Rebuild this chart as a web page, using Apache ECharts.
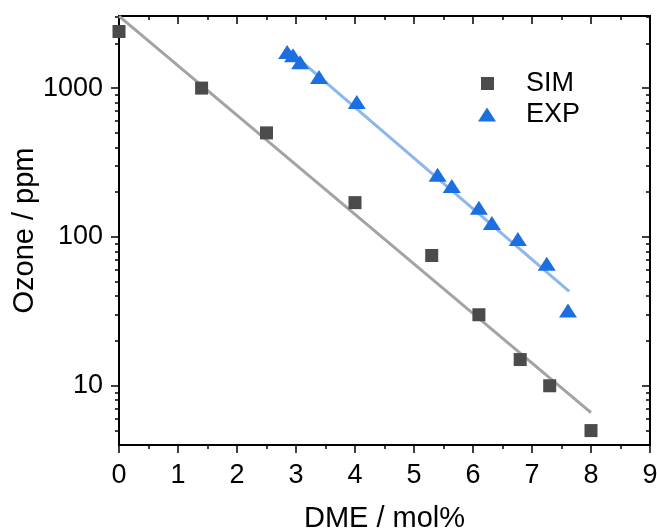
<!DOCTYPE html>
<html>
<head>
<meta charset="utf-8">
<script src="https://cdn.jsdelivr.net/npm/echarts@6/dist/echarts.min.js"></script>
<style>
  html, body { margin: 0; padding: 0; background: #fff; }
  #chart { width: 657px; height: 529px; }
</style>
</head>
<body>
<div id="chart"></div>
<script>
// Ozone concentration vs. DME content (log scale)
const simX = [0, 1.4, 2.5, 4.0, 5.3, 6.1, 6.8, 7.3, 8.0];
const simY = [2400, 1000, 500, 170, 75, 30, 15, 10, 5];
const expX = [2.85, 2.95, 3.07, 3.39, 4.03, 5.4, 5.64, 6.1, 6.32, 6.76, 7.25, 7.61];
const expY = [1750, 1660, 1490, 1185, 805, 262, 220, 157, 124, 97, 66, 32];

// Exponential fit lines (end points)
const simFitX = [0, 8.0];
const simFitY = [3040, 6.6];
const expFitX = [2.85, 7.63];
const expFitY = [1830, 43];

const xTicks = [0, 1, 2, 3, 4, 5, 6, 7, 8, 9];
const yMajorTicks = [10, 100, 1000];
const yMinorTicks = [5, 6, 7, 8, 9, 20, 30, 40, 50, 60, 70, 80, 90,
                     200, 300, 400, 500, 600, 700, 800, 900, 2000, 3000];
const yMin = 4, yMax = 3050;

const zip = (xs, ys) => xs.map((x, i) => [x, ys[i]]);

const FONT = '"Liberation Sans", Arial, sans-serif';
const AXIS_COLOR = '#000';

function yAxisDef(pos, major, withLabels) {
  return {
    type: 'log',
    position: pos,
    min: yMin,
    max: yMax,
    logBase: 10,
    name: withLabels ? 'Ozone / ppm' : '',
    nameLocation: 'middle',
    nameGap: 80,
    nameMoveOverlap: false,
    nameTextStyle: { fontFamily: FONT, fontSize: 29, color: '#000' },
    axisLine: { show: true, lineStyle: { color: AXIS_COLOR, width: 2 } },
    axisTick: {
      show: true,
      inside: pos === 'right',
      length: major ? 8 : 4,
      customValues: major ? yMajorTicks : yMinorTicks,
      lineStyle: { color: AXIS_COLOR, width: 1.5 }
    },
    axisLabel: {
      show: withLabels,
      customValues: yMajorTicks,
      formatter: v => String(Math.round(v)),
      fontFamily: FONT, fontSize: 27, color: '#000', margin: 16
    },
    splitLine: { show: false },
    minorTick: { show: false },
    minorSplitLine: { show: false }
  };
}

function xAxisDef(pos, withLabels) {
  return {
    type: 'value',
    position: pos,
    min: 0,
    max: 9,
    interval: 1,
    name: withLabels ? 'DME / mol%' : '',
    nameLocation: 'middle',
    nameGap: 59,
    nameTextStyle: { fontFamily: FONT, fontSize: 29, color: '#000' },
    axisLine: { show: true, onZero: false, lineStyle: { color: AXIS_COLOR, width: 2 } },
    axisTick: { show: true, inside: pos === 'top', length: 8, lineStyle: { color: AXIS_COLOR, width: 1.5 } },
    minorTick: { show: true, splitNumber: 2, length: 4, lineStyle: { color: AXIS_COLOR, width: 1.5 } },
    axisLabel: {
      show: withLabels,
      fontFamily: FONT, fontSize: 27, color: '#000', margin: 17,
      formatter: v => (xTicks.indexOf(v) >= 0 ? String(v) : '')
    },
    splitLine: { show: false },
    minorSplitLine: { show: false }
  };
}

const chart = echarts.init(document.getElementById('chart'), null, { renderer: 'canvas' });
chart.setOption({
  animation: false,
  backgroundColor: '#fff',
  grid: { left: 119, right: 7, top: 16, bottom: 84, containLabel: false, outerBoundsMode: 'none' },
  xAxis: [xAxisDef('bottom', true), xAxisDef('top', false)],
  yAxis: [
    yAxisDef('left', true, true),
    yAxisDef('left', false, false),
    yAxisDef('right', true, false),
    yAxisDef('right', false, false)
  ],
  legend: [
    {
      data: ['SIM'], orient: 'vertical', left: 476, top: 65,
      itemWidth: 13, itemHeight: 13, icon: 'rect',
      textStyle: { fontFamily: FONT, fontSize: 27, color: '#000', padding: [0, 0, 0, 27] }
    },
    {
      data: ['EXP'], orient: 'vertical', left: 473, top: 96,
      itemWidth: 18, itemHeight: 14, icon: 'triangle',
      textStyle: { fontFamily: FONT, fontSize: 27, color: '#000', padding: [0, 0, 0, 25] }
    }
  ],
  series: [
    {
      name: 'SIM fit', type: 'line', xAxisIndex: 0, yAxisIndex: 0,
      data: zip(simFitX, simFitY), showSymbol: false, symbol: 'none',
      lineStyle: { color: '#a3a3a3', width: 3 }, z: 1, silent: true
    },
    {
      name: 'EXP fit', type: 'line', xAxisIndex: 0, yAxisIndex: 0,
      data: zip(expFitX, expFitY), showSymbol: false, symbol: 'none',
      lineStyle: { color: '#8cb6ee', width: 3 }, z: 1, silent: true
    },
    {
      name: 'SIM', type: 'scatter', xAxisIndex: 0, yAxisIndex: 0,
      data: zip(simX, simY), symbol: 'rect', symbolSize: 13,
      itemStyle: { color: '#4b4b4b', opacity: 1 }, z: 3, clip: false
    },
    {
      name: 'EXP', type: 'scatter', xAxisIndex: 0, yAxisIndex: 0,
      data: zip(expX, expY), symbol: 'triangle', symbolSize: [18, 14],
      itemStyle: { color: '#1b6fe0', opacity: 1 }, z: 3, clip: false
    }
  ]
});
</script>
</body>
</html>
